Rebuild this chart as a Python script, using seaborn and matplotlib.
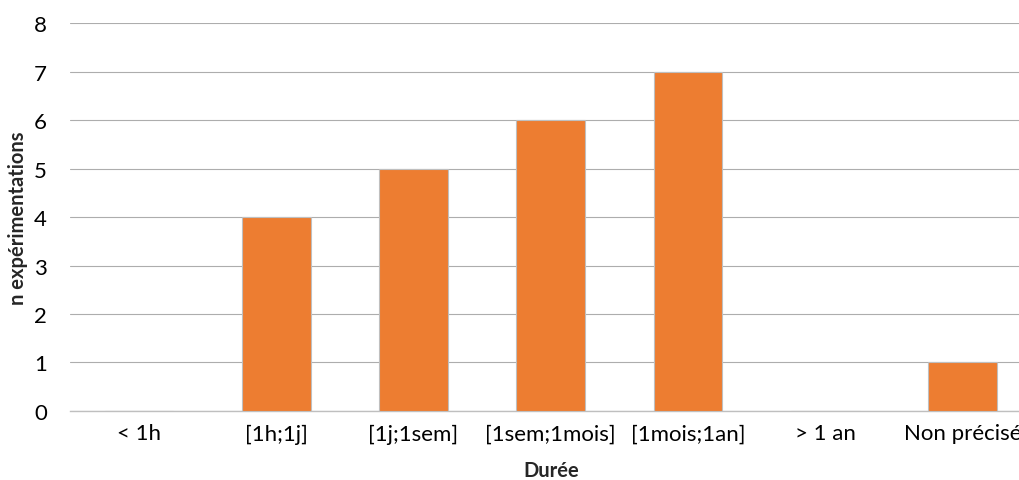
import matplotlib
matplotlib.use("Agg")
import matplotlib.pyplot as plt
import seaborn as sns
import pandas as pd

categories = ["< 1h", "[1h;1j]", "[1j;1sem]", "[1sem;1mois]", "[1mois;1an]", "> 1 an", "Non précisé"]
counts = [0, 4, 5, 6, 7, 0, 1]

df = pd.DataFrame({"Durée": categories, "n": counts})

sns.set_theme(style="white")
plt.rcParams["font.family"] = ["Lato", "DejaVu Sans"]

fig = plt.figure(figsize=(10.2, 4.81), dpi=100)
ax = fig.add_axes([0.069, 0.1435, 0.942, 0.8065])

sns.barplot(data=df, x="Durée", y="n", color="#ED7D31", saturation=1,
            width=0.5, edgecolor="#BFBFBF", linewidth=0.8, ax=ax, zorder=3)

ax.set_ylim(0, 8)
ax.set_yticks(range(0, 9))
ax.yaxis.grid(True, color="#ADADAD", linewidth=0.8, zorder=0)
ax.xaxis.grid(False)
for side in ["top", "right", "left"]:
    ax.spines[side].set_visible(False)
ax.spines["bottom"].set_color("#BFBFBF")
ax.spines["bottom"].set_linewidth(1.0)
ax.tick_params(axis="both", length=0, labelsize=16, colors="#000000")
ax.tick_params(axis="y", pad=17)
ax.tick_params(axis="x", pad=9)

ax.set_xlabel("Durée", fontsize=14.5, fontweight="bold", labelpad=12)
ax.set_ylabel("n expérimentations", fontsize=14.5, fontweight="bold", labelpad=4)

fig.savefig("out.png", dpi=100)
